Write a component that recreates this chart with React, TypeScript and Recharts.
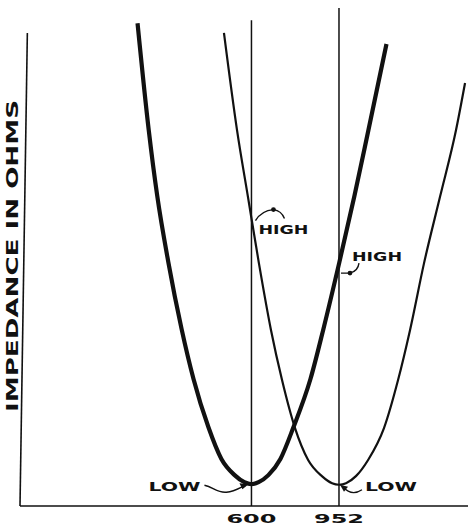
import { LineChart, Line, XAxis, YAxis, ReferenceLine, ReferenceDot } from "recharts"

// frequency (Hz) and impedance readings for the two resonant circuits
const freqLow600 = [329, 349, 365, 387, 415, 442, 478, 512, 549, 578, 600, 623, 656, 699, 749, 819, 877, 954, 1033, 1112, 1223]
const ohmsLow600 = [954, 743, 613, 482, 350, 251, 156, 93, 61, 47, 43, 47, 61, 93, 156, 251, 350, 482, 613, 743, 913]

const freqLow952 = [519, 556, 589, 624, 665, 705, 755, 809, 870, 918, 952, 988, 1041, 1110, 1207, 1300, 1385, 1491, 1622, 1765, 1851]
const ohmsLow952 = [935, 743, 611, 480, 348, 249, 154, 91, 59, 45, 42, 45, 59, 91, 154, 249, 348, 480, 611, 743, 836]

const xTicks = [600, 952]
const markerTops = [960, 984]

// annotations: text and the point their arrow touches
const noteText = ["LOW", "LOW", "HIGH", "HIGH"]
const noteFreq = [600, 952, 600, 952]
const noteOhms = [43, 42, 570, 480]

const curve600 = freqLow600.map((f, i) => ({ f, z: ohmsLow600[i] }))
const curve952 = freqLow952.map((f, i) => ({ f, z: ohmsLow952[i] }))

const INK = "#111"
const LETTER = { fontFamily: "DejaVu Sans", fontWeight: 700, fill: INK, lengthAdjust: "spacingAndGlyphs" }

// offsets of text / arrow relative to the anchored point
const noteLayout = [
  { tx: -77, ty: 3, w: 52, arrow: "M -47 1 C -38 3, -34 9, -25 8 C -16 7, -11 3, -6 1", head: "M -3 0 L -12 -1 L -9 5 Z" },
  { tx: 52, ty: 2, w: 52, arrow: "M 23 5 C 17 9, 10 9, 4 2", head: "M 1 0 L 9 2 L 5 7 Z" },
  { tx: 32, ty: 12, w: 50, arrow: "M 4 3 Q 10 -7, 22 -8 Q 30 -7, 33 1", dot: [22, -8] },
  { tx: 38, ty: -6, w: 50, arrow: "M 20 0 Q 19 8, 11 10 L 2 10", dot: [11, 10] },
]

function Note(props: any, i: number) {
  const { cx, cy } = props
  const l = noteLayout[i]
  return (
    <g transform={`translate(${cx},${cy})`}>
      <path d={l.arrow} fill="none" stroke={INK} strokeWidth={1.4} />
      {l.head && <path d={l.head} fill={INK} />}
      {l.dot && <circle cx={l.dot[0]} cy={l.dot[1]} r={2.4} fill={INK} />}
      <text
        x={l.tx - l.w / 2}
        y={l.ty}
        dominantBaseline="central"
        fontSize={12}
        textLength={l.w}
        {...LETTER}
      >
        {noteText[i]}
      </text>
    </g>
  )
}

function FreqTick({ x, y, payload }: any) {
  return (
    <text x={x - 25} y={y} dy="0.71em" fontSize={13} textLength={50} {...LETTER}>
      {payload.value}
    </text>
  )
}

function AxisTitle({ viewBox }: any) {
  const cx = viewBox.x + viewBox.width / 2 + 3
  const cy = viewBox.y + viewBox.height / 2 + 3
  return (
    <text
      x={cx - 156}
      y={cx}
      transform={`rotate(-90 ${cx} ${cy}) translate(0 ${cy - cx})`}
      dominantBaseline="central"
      fontSize={15}
      textLength={312}
      {...LETTER}
    >
      IMPEDANCE IN OHMS
    </text>
  )
}

export default function App() {
  return (
    <div style={{ position: "absolute", left: 0, top: 0, width: 468, height: 527, background: "#fff" }}>
      <LineChart width={468} height={527} margin={{ top: 0, right: 0, bottom: 0, left: 0 }}>
        <XAxis
          dataKey="f"
          type="number"
          scale="log"
          domain={[177, 1880]}
          allowDataOverflow
          ticks={xTicks}
          height={21}
          tickSize={0}
          tickMargin={8}
          tickLine={false}
          tick={<FreqTick />}
          axisLine={{ stroke: INK, strokeWidth: 1.6 }}
        />
        <YAxis
          type="number"
          domain={[0, 1000]}
          width={20}
          tick={false}
          tickLine={false}
          axisLine={false}
          label={<AxisTitle />}
        />
        {/* the hand-drawn vertical axis, slightly slanted */}
        <ReferenceLine segment={[{ x: 177, y: 0 }, { x: 184, y: 935 }]} stroke={INK} strokeWidth={1.6} />
        {xTicks.map((t, i) => (
          <ReferenceLine key={t} segment={[{ x: t, y: 0 }, { x: t, y: markerTops[i] }]} stroke={INK} strokeWidth={1.5} />
        ))}
        <Line data={curve600} dataKey="z" type="monotone" stroke={INK} strokeWidth={4.2} dot={false} isAnimationActive={false} />
        <Line data={curve952} dataKey="z" type="monotone" stroke={INK} strokeWidth={2.2} dot={false} isAnimationActive={false} />
        {noteText.map((t, i) => (
          <ReferenceDot key={i} x={noteFreq[i]} y={noteOhms[i]} r={0} shape={(p: any) => Note(p, i)} />
        ))}
      </LineChart>
    </div>
  )
}
